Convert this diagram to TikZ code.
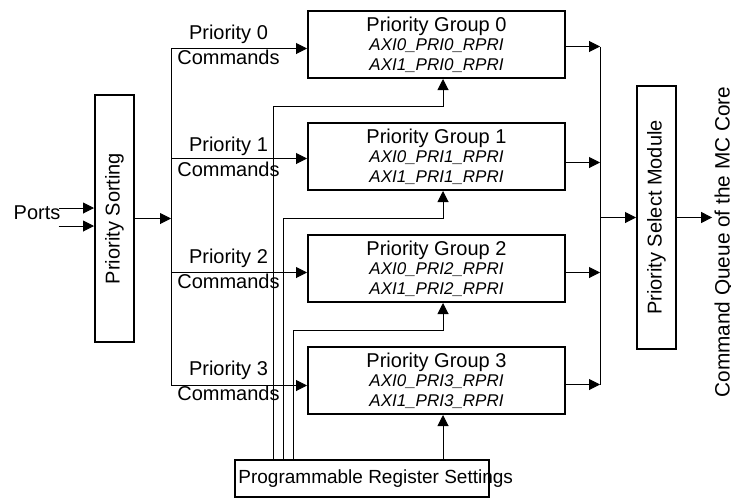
\documentclass[tikz,border=0pt]{standalone}
\usepackage{fontspec}
\setmainfont{Liberation Sans}
\usetikzlibrary{arrows.meta,positioning}
\newcommand{\regname}[1]{{\fontsize{8.5}{9.75}\selectfont\itshape #1}}

\begin{document}
\begin{tikzpicture}[
    x=0.5pt, y=-0.5pt,
    font=\fontsize{10}{12}\selectfont,
    box/.style={draw, line width=1pt, inner sep=2pt},
    grpbox/.style={box, minimum width=128.5pt, minimum height=33.5pt,
      align=center, font=\fontsize{10}{9.75}\selectfont},
    vbox/.style={box, rotate=90, minimum height=19.5pt},
    lbl/.style={inner sep=1pt, align=center, font=\fontsize{10}{12.5}\selectfont},
    wire/.style={line width=0.5pt},
    conn/.style={wire, -{Triangle[length=5.5pt,width=5.5pt]}}
  ]
  \useasboundingbox (0,0) rectangle (731,498);

  % left side
  \node[lbl, inner sep=0pt] (ports) at (37,213) {Ports};
  \node[vbox, minimum width=123.5pt] (sort) at (114.5,218.5) {Priority Sorting};

  % priority groups
  \node[grpbox] (grp0) at (436.5,44.5)
    {Priority Group 0\\\regname{AXI0\_PRI0\_RPRI}\\\regname{AXI1\_PRI0\_RPRI}};
  \node[grpbox, below=21.5pt of grp0] (grp1)
    {Priority Group 1\\\regname{AXI0\_PRI1\_RPRI}\\\regname{AXI1\_PRI1\_RPRI}};
  \node[grpbox, below=21.5pt of grp1] (grp2)
    {Priority Group 2\\\regname{AXI0\_PRI2\_RPRI}\\\regname{AXI1\_PRI2\_RPRI}};
  \node[grpbox, below=21.5pt of grp2] (grp3)
    {Priority Group 3\\\regname{AXI0\_PRI3\_RPRI}\\\regname{AXI1\_PRI3\_RPRI}};

  \node[lbl, left=12.5pt of grp0] (cmd0) {Priority 0\\Commands};
  \node[lbl, left=12.5pt of grp1] (cmd1) {Priority 1\\Commands};
  \node[lbl, left=12.5pt of grp2] (cmd2) {Priority 2\\Commands};
  \node[lbl, left=12.5pt of grp3] (cmd3) {Priority 3\\Commands};

  % right side
  \node[vbox, minimum width=131.5pt] (select) at (656.5,217.5) {Priority Select Module};
  \node[lbl, rotate=90, font=\fontsize{10.4}{12}\selectfont] (cmdq) at (724,242)
    {Command Queue of the MC Core};

  % register settings
  \node[box, minimum width=127pt, minimum height=18.5pt] (reg) at (362,478.5) {};
  \node[anchor=west, inner sep=0pt, font=\fontsize{9.5}{11}\selectfont] (regtxt)
    at ([xshift=2pt]reg.west) {Programmable Register Settings};

  \coordinate (lbus) at (171,0);
  \coordinate (rbus) at (600,0);
  \coordinate (pin0) at ([xshift=-1pt,yshift=2.5pt]ports.east);
  \coordinate (pin1) at ([xshift=-1pt,yshift=-6.5pt]ports.east);
  \coordinate (in0) at ([yshift=-2pt]grp0.west);
  \coordinate (in1) at ([yshift=-1pt]grp1.west);
  \coordinate (in2) at ([yshift=-2pt]grp2.west);
  \coordinate (in3) at ([yshift=-2.5pt]grp3.west);
  \coordinate (out0) at ([yshift=-1pt]grp0.east);
  \coordinate (out1) at ([yshift=-3pt]grp1.east);
  \coordinate (out2) at ([yshift=-2pt]grp2.east);
  \coordinate (out3) at ([yshift=-2pt]grp3.east);
  \coordinate (tap0) at ([xshift=3.25pt]grp0.south);
  \coordinate (tap1) at ([xshift=3.25pt]grp1.south);
  \coordinate (tap2) at ([xshift=3.25pt]grp2.south);
  \coordinate (tap3) at ([xshift=3.25pt]grp3.south);

  \draw[conn] (pin0) -- (pin0 -| sort.north);
  \draw[conn] (pin1) -- (pin1 -| sort.north);
  \draw[conn] (sort.south) -- (sort.south -| lbus);

  \draw[wire] (in0 -| lbus) -- (in3 -| lbus);
  \draw[conn] (in0 -| lbus) -- (in0);
  \draw[conn] (in1 -| lbus) -- (in1);
  \draw[conn] (in2 -| lbus) -- (in2);
  \draw[conn] (in3 -| lbus) -- (in3);

  \draw[conn] (out0) -- (out0 -| rbus);
  \draw[conn] (out1) -- (out1 -| rbus);
  \draw[conn] (out2) -- (out2 -| rbus);
  \draw[conn] (out3) -- (out3 -| rbus);
  \draw[wire] (out0 -| rbus) -- (out3 -| rbus);
  \draw[conn] (select.north -| rbus) -- (select.north);
  \draw[conn] (select.south) -- (select.south -| cmdq.north);

  \draw[conn] ([xshift=19.5pt]reg.north west) |- ([yshift=-13.5pt]tap0) -- (tap0);
  \draw[conn] ([xshift=24.5pt]reg.north west) |- ([yshift=-13.5pt]tap1) -- (tap1);
  \draw[conn] ([xshift=29.5pt]reg.north west) |- ([yshift=-13.5pt]tap2) -- (tap2);
  \draw[conn] (tap3 |- reg.north) -- (tap3);
\end{tikzpicture}
\end{document}
